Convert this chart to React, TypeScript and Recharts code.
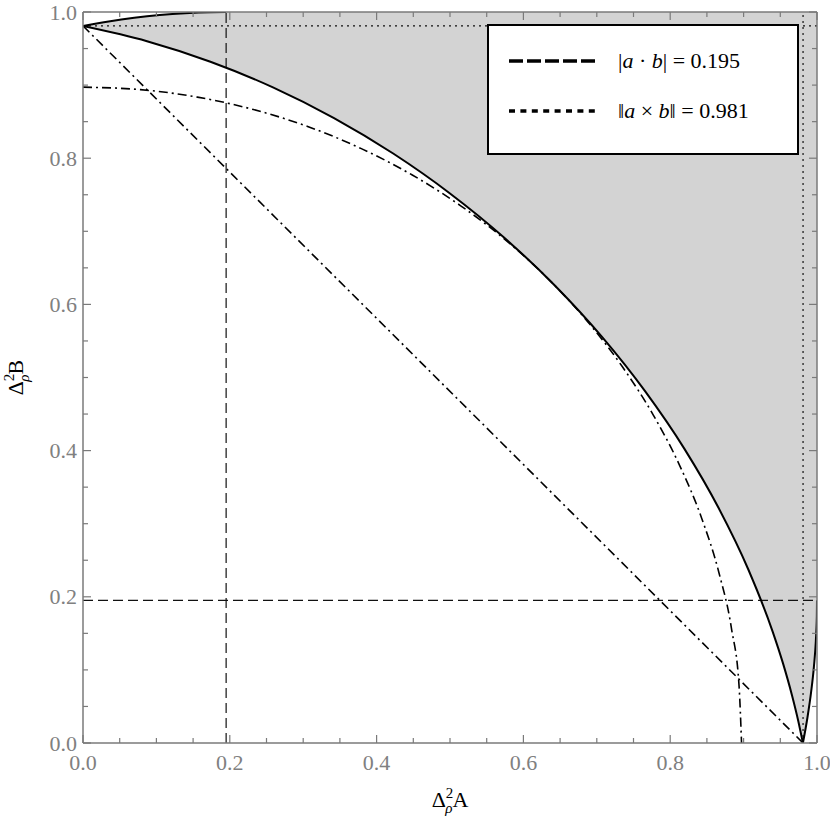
import { ComposedChart, Line, Area, XAxis, YAxis } from 'recharts';

const W = 830;
const H = 821;
const AXIS = '#7a7a7a';
const SHADE = '#d3d3d3';
const FONT = 'Liberation Serif, DejaVu Serif, serif';

// tick positions (every 0.05, labelled every 0.2)
const TICKS = [0, 0.05, 0.1, 0.15, 0.2, 0.25, 0.3, 0.35, 0.4, 0.45, 0.5, 0.55, 0.6, 0.65, 0.7, 0.75, 0.8, 0.85, 0.9, 0.95, 1];

const DOT_AB = 0.195;   // |a . b|
const CROSS_AB = 0.981; // ||a x b||

// [Δ A, Δ B] points
const lowerBound: [number, number][] = [
  [0, 0.9808], [0.0872, 0.9601], [0.1736, 0.932], [0.2588, 0.8969], [0.342, 0.8549],
  [0.4226, 0.8064], [0.5, 0.7518], [0.5736, 0.6915], [0.6428, 0.6259], [0.7071, 0.5556],
  [0.766, 0.481], [0.8192, 0.4027], [0.866, 0.3214], [0.9063, 0.2377], [0.9397, 0.1521],
  [0.9537, 0.1089], [0.9659, 0.0654], [0.9744, 0.0305], [0.9808, 0],
];
const upperLeft: [number, number][] = [
  [0, 0.9808], [0.0349, 0.987], [0.0698, 0.992], [0.1045, 0.9958], [0.1392, 0.9984],
  [0.1736, 0.9998], [0.1951, 1],
];
const rightEdge: [number, number][] = [
  [0.9808, 0], [0.987, 0.0349], [0.992, 0.0698], [0.9958, 0.1045], [0.9984, 0.1392],
  [0.9998, 0.1736], [1, 0.1951],
];
const circleBound: [number, number][] = [
  [0, 0.8972], [0.0782, 0.8938], [0.1558, 0.8836], [0.2322, 0.8666], [0.3069, 0.8431],
  [0.3792, 0.8131], [0.4486, 0.777], [0.5146, 0.7349], [0.5767, 0.6873], [0.6344, 0.6344],
  [0.6873, 0.5767], [0.7349, 0.5146], [0.777, 0.4486], [0.8131, 0.3792], [0.8431, 0.3069],
  [0.8666, 0.2322], [0.8836, 0.1558], [0.8938, 0.0782], [0.8972, 0],
];
const sumBound: [number, number][] = [[0, 0.981], [0.981, 0]];
const fullSquare: [number, number][] = [[0, 1], [1, 1]];

const toRows = (pts: [number, number][]) => pts.map(([u, v]) => ({ u, v }));

const isMajor = (v: number) => Math.abs(v * 5 - Math.round(v * 5)) < 1e-6;
const tickLen = (v: number) => (isMajor(v) ? 8 : 5);

const BottomTick = ({ x, y, payload }: any) => (
  <g>
    <line x1={x} y1={y} x2={x} y2={y - tickLen(payload.value)} stroke={AXIS} strokeWidth={1.2} />
    {isMajor(payload.value) && (
      <text x={x} y={y + 27} textAnchor="middle" fill="#808080" fontSize={22} fontFamily={FONT}>
        {payload.value.toFixed(1)}
      </text>
    )}
  </g>
);
const TopTick = ({ x, y, payload }: any) => (
  <line x1={x} y1={y} x2={x} y2={y + tickLen(payload.value)} stroke={AXIS} strokeWidth={1.2} />
);
const LeftTick = ({ x, y, payload }: any) => (
  <g>
    <line x1={x} y1={y} x2={x + tickLen(payload.value)} y2={y} stroke={AXIS} strokeWidth={1.2} />
    {isMajor(payload.value) && (
      <text x={x - 6} y={y + 7.5} textAnchor="end" fill="#808080" fontSize={22} fontFamily={FONT}>
        {payload.value.toFixed(1)}
      </text>
    )}
  </g>
);
const RightTick = ({ x, y, payload }: any) => (
  <line x1={x} y1={y} x2={x - tickLen(payload.value)} y2={y} stroke={AXIS} strokeWidth={1.2} />
);

const XTitle = ({ viewBox }: any) => (
  <text x={viewBox.x + viewBox.width / 2} y={viewBox.y + 64} textAnchor="middle" fontSize={22} fontFamily={FONT} fill="#000">
    Δ<tspan dy={-9} fontSize={15}>2</tspan>
    <tspan dx={-8} dy={15} fontSize={15} fontStyle="italic">ρ</tspan>
    <tspan dy={-6}>A</tspan>
  </text>
);
const YTitle = ({ viewBox }: any) => {
  const cx = 23;
  const cy = viewBox.y + viewBox.height / 2;
  return (
    <text x={cx} y={cy} transform={`rotate(-90 ${cx} ${cy})`} textAnchor="middle" fontSize={22} fontFamily={FONT} fill="#000">
      Δ<tspan dy={-9} fontSize={15}>2</tspan>
      <tspan dx={-8} dy={15} fontSize={15} fontStyle="italic">ρ</tspan>
      <tspan dy={-6}>B</tspan>
    </text>
  );
};

function LegendBox() {
  return (
    <div
      style={{
        position: 'absolute', left: 487, top: 24, width: 312, height: 131,
        boxSizing: 'border-box', border: '2.5px solid #000', background: '#fff',
      }}
    >
      <svg width={307} height={126} style={{ display: 'block' }}>
        <line x1={20} y1={35} x2={106} y2={35} stroke="#000" strokeWidth={3.5} strokeDasharray="14 4" />
        <line x1={20} y1={85} x2={106} y2={85} stroke="#000" strokeWidth={3.5} strokeDasharray="6 5.4" />
        <text x={129} y={42} fontSize={22} fontFamily={FONT} fill="#000">
          |<tspan fontStyle="italic">a</tspan> · <tspan fontStyle="italic">b</tspan>| = {DOT_AB.toFixed(3)}
        </text>
        <text x={129} y={92} fontSize={22} fontFamily={FONT} fill="#000">
          ‖<tspan fontStyle="italic">a</tspan> × <tspan fontStyle="italic">b</tspan>‖ = {CROSS_AB.toFixed(3)}
        </text>
      </svg>
    </div>
  );
}

export default function App() {
  const dashDot = '9 4 2 4';
  return (
    <div style={{ position: 'absolute', left: 0, top: 0, width: W, height: H, background: '#fff' }}>
      <ComposedChart width={W} height={H} margin={{ top: 11, right: 12, bottom: 48, left: 53 }}>
        <XAxis xAxisId="b" dataKey="u" type="number" domain={[0, 1]} ticks={TICKS} allowDataOverflow
          height={30} tickSize={0} tickMargin={0} tickLine={false} tick={<BottomTick />}
          axisLine={{ stroke: AXIS, strokeWidth: 1.5 }} interval={0} label={<XTitle />} />
        <XAxis xAxisId="t" orientation="top" dataKey="u" type="number" domain={[0, 1]} ticks={TICKS}
          allowDataOverflow height={1} tickSize={0} tickMargin={0} tickLine={false} tick={<TopTick />}
          axisLine={{ stroke: AXIS, strokeWidth: 1.5 }} interval={0} />
        <YAxis yAxisId="l" type="number" domain={[0, 1]} ticks={TICKS} allowDataOverflow width={30}
          tickSize={0} tickMargin={0} tickLine={false} tick={<LeftTick />}
          axisLine={{ stroke: AXIS, strokeWidth: 1.5 }} interval={0} label={<YTitle />} />
        <YAxis yAxisId="r" orientation="right" type="number" domain={[0, 1]} ticks={TICKS} allowDataOverflow
          width={1} tickSize={0} tickMargin={0} tickLine={false} tick={<RightTick />}
          axisLine={{ stroke: AXIS, strokeWidth: 1.5 }} interval={0} />

        {/* shaded region: grey square, then white cut-outs */}
        <Area xAxisId="b" yAxisId="l" data={toRows(fullSquare)} dataKey="v" type="linear" fill={SHADE} fillOpacity={1} stroke="none" isAnimationActive={false} />
        <Area xAxisId="b" yAxisId="l" data={toRows(lowerBound)} dataKey="v" type="monotone" fill="#fff" fillOpacity={1} stroke="none" isAnimationActive={false} />
        <Area xAxisId="b" yAxisId="l" data={toRows(rightEdge)} dataKey="v" type="linear" fill="#fff" fillOpacity={1} stroke="none" isAnimationActive={false} />
        <Area xAxisId="b" yAxisId="l" data={toRows(upperLeft)} dataKey={(d: any) => [d.v, 1]} type="linear" fill="#fff" fillOpacity={1} stroke="none" isAnimationActive={false} />

        {/* reference values */}
        <Line xAxisId="b" yAxisId="l" data={toRows([[DOT_AB, 0], [DOT_AB, 1]])} dataKey="v" type="linear" stroke="#111" strokeWidth={1.2} strokeDasharray="10 5" dot={false} activeDot={false} isAnimationActive={false} />
        <Line xAxisId="b" yAxisId="l" data={toRows([[0, DOT_AB], [1, DOT_AB]])} dataKey="v" type="linear" stroke="#111" strokeWidth={1.2} strokeDasharray="10 5" dot={false} activeDot={false} isAnimationActive={false} />
        <Line xAxisId="b" yAxisId="l" data={toRows([[CROSS_AB, 0], [CROSS_AB, 1]])} dataKey="v" type="linear" stroke="#111" strokeWidth={1.2} strokeDasharray="2 4" dot={false} activeDot={false} isAnimationActive={false} />
        <Line xAxisId="b" yAxisId="l" data={toRows([[0, CROSS_AB], [1, CROSS_AB]])} dataKey="v" type="linear" stroke="#111" strokeWidth={1.2} strokeDasharray="2 4" dot={false} activeDot={false} isAnimationActive={false} />

        {/* bounds */}
        <Line xAxisId="b" yAxisId="l" data={toRows(sumBound)} dataKey="v" type="linear" stroke="#000" strokeWidth={1.6} strokeDasharray={dashDot} dot={false} activeDot={false} isAnimationActive={false} />
        <Line xAxisId="b" yAxisId="l" data={toRows(circleBound)} dataKey="v" type="monotone" stroke="#000" strokeWidth={1.6} strokeDasharray={dashDot} dot={false} activeDot={false} isAnimationActive={false} />
        <Line xAxisId="b" yAxisId="l" data={toRows(lowerBound)} dataKey="v" type="monotone" stroke="#000" strokeWidth={2} dot={false} activeDot={false} isAnimationActive={false} />
        <Line xAxisId="b" yAxisId="l" data={toRows(upperLeft)} dataKey="v" type="monotone" stroke="#000" strokeWidth={2} dot={false} activeDot={false} isAnimationActive={false} />
        <Line xAxisId="b" yAxisId="l" data={toRows(rightEdge)} dataKey="v" type="monotone" stroke="#000" strokeWidth={2} dot={false} activeDot={false} isAnimationActive={false} />
      </ComposedChart>
      <LegendBox />
    </div>
  );
}
